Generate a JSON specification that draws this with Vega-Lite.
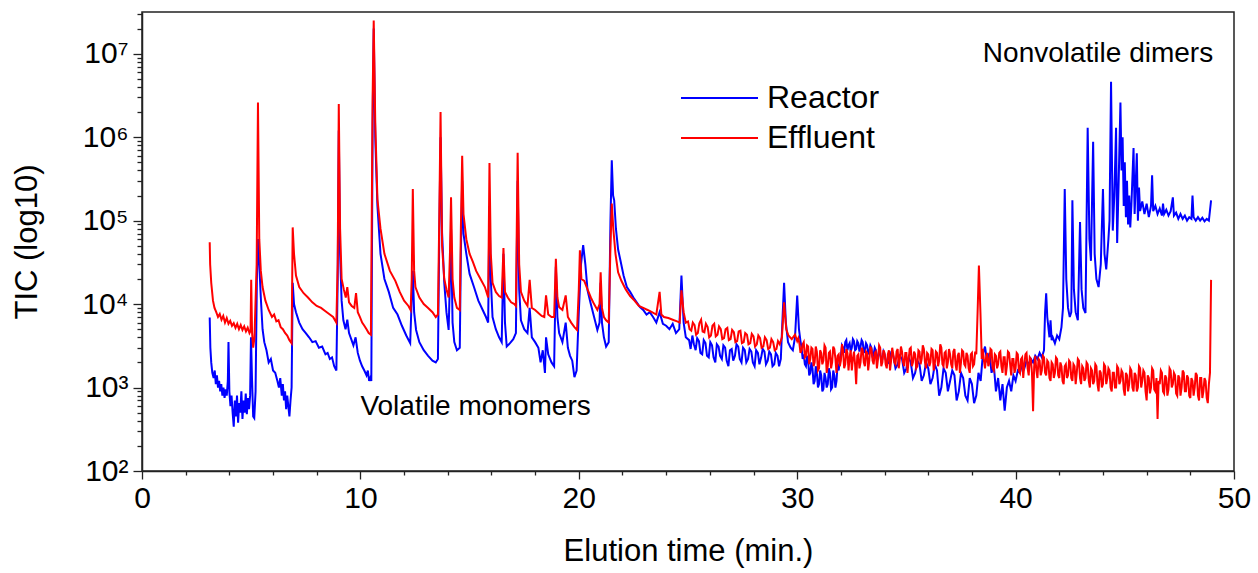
{
  "$schema": "https://vega.github.io/schema/vega-lite/v6.json",
  "width": 1092,
  "height": 459,
  "autosize": {"type": "none"},
  "padding": {"left": 142, "top": 12, "right": 24, "bottom": 102},
  "background": "white",
  "config": {
    "font": "Liberation Sans",
    "view": {"stroke": "#222222", "strokeWidth": 1.5},
    "axis": {
      "domainColor": "#222222", "domainWidth": 1.5, "tickColor": "#222222", "tickWidth": 1.3,
      "labelColor": "black", "titleColor": "black", "labelFont": "Liberation Sans", "titleFont": "Liberation Sans",
      "titleFontWeight": "normal", "grid": false, "labelFontSize": 30, "titleFontSize": 31, "labelOverlap": false
    }
  },
  "datasets": {
    "reactor": [
      {"t":3.1,"tic":6900},{"t":3.13,"tic":3000},{"t":3.17,"tic":2000},{"t":3.22,"tic":1500},{"t":3.28,"tic":1300},{"t":3.33,"tic":1600},{"t":3.38,"tic":1100},{"t":3.43,"tic":1400},{"t":3.48,"tic":1000},{"t":3.53,"tic":1200},{"t":3.58,"tic":900},{"t":3.63,"tic":1100},{"t":3.68,"tic":800},{"t":3.73,"tic":1000},{"t":3.78,"tic":750},{"t":3.83,"tic":950},{"t":3.88,"tic":800},{"t":3.93,"tic":1200},{"t":3.96,"tic":3500},{"t":4.0,"tic":900},{"t":4.05,"tic":600},{"t":4.1,"tic":800},{"t":4.15,"tic":500},{"t":4.2,"tic":340},{"t":4.25,"tic":700},{"t":4.3,"tic":450},{"t":4.35,"tic":800},{"t":4.4,"tic":380},{"t":4.45,"tic":650},{"t":4.5,"tic":500},{"t":4.55,"tic":900},{"t":4.6,"tic":420},{"t":4.65,"tic":700},{"t":4.7,"tic":500},{"t":4.75,"tic":850},{"t":4.8,"tic":480},{"t":4.85,"tic":750},{"t":4.9,"tic":550},{"t":4.95,"tic":800},{"t":4.99,"tic":4000},{"t":5.04,"tic":1200},{"t":5.09,"tic":450},{"t":5.14,"tic":430},{"t":5.2,"tic":900},{"t":5.26,"tic":20000},{"t":5.31,"tic":60000},{"t":5.37,"tic":30000},{"t":5.44,"tic":12000},{"t":5.52,"tic":5000},{"t":5.6,"tic":3500},{"t":5.7,"tic":2800},{"t":5.8,"tic":2000},{"t":5.9,"tic":2200},{"t":6.0,"tic":1600},{"t":6.1,"tic":1500},{"t":6.2,"tic":1200},{"t":6.27,"tic":1000},{"t":6.33,"tic":1300},{"t":6.4,"tic":800},{"t":6.45,"tic":1100},{"t":6.5,"tic":700},{"t":6.55,"tic":900},{"t":6.6,"tic":550},{"t":6.65,"tic":800},{"t":6.7,"tic":600},{"t":6.75,"tic":450},{"t":6.8,"tic":700},{"t":6.85,"tic":1000},{"t":6.9,"tic":18000},{"t":6.96,"tic":10000},{"t":7.05,"tic":8000},{"t":7.2,"tic":6000},{"t":7.35,"tic":5000},{"t":7.5,"tic":4500},{"t":7.65,"tic":4000},{"t":7.8,"tic":3500},{"t":7.95,"tic":3600},{"t":8.1,"tic":3000},{"t":8.25,"tic":3100},{"t":8.4,"tic":2500},{"t":8.5,"tic":2600},{"t":8.6,"tic":2200},{"t":8.7,"tic":2300},{"t":8.8,"tic":1800},{"t":8.9,"tic":1600},{"t":8.96,"tic":20000},{"t":9.01,"tic":1200000},{"t":9.07,"tic":40000},{"t":9.14,"tic":11000},{"t":9.22,"tic":6400},{"t":9.32,"tic":5000},{"t":9.4,"tic":6500},{"t":9.48,"tic":4500},{"t":9.58,"tic":3800},{"t":9.68,"tic":3200},{"t":9.78,"tic":4000},{"t":9.88,"tic":2600},{"t":9.98,"tic":2100},{"t":10.08,"tic":1800},{"t":10.18,"tic":1600},{"t":10.28,"tic":1400},{"t":10.34,"tic":1600},{"t":10.4,"tic":1200},{"t":10.45,"tic":1300},{"t":10.5,"tic":1200},{"t":10.56,"tic":1500000},{"t":10.61,"tic":20000000},{"t":10.68,"tic":1000000},{"t":10.78,"tic":150000},{"t":10.92,"tic":40000},{"t":11.1,"tic":20000},{"t":11.3,"tic":14000},{"t":11.5,"tic":9000},{"t":11.7,"tic":7500},{"t":11.9,"tic":5500},{"t":12.1,"tic":4200},{"t":12.28,"tic":3400},{"t":12.34,"tic":10000},{"t":12.4,"tic":25000},{"t":12.46,"tic":8000},{"t":12.55,"tic":4900},{"t":12.7,"tic":3500},{"t":12.9,"tic":2800},{"t":13.1,"tic":2400},{"t":13.3,"tic":2100},{"t":13.45,"tic":2000},{"t":13.55,"tic":2200},{"t":13.61,"tic":60000},{"t":13.67,"tic":1000000},{"t":13.74,"tic":71000},{"t":13.84,"tic":18000},{"t":13.94,"tic":8000},{"t":14.04,"tic":4900},{"t":14.1,"tic":20000},{"t":14.15,"tic":80000},{"t":14.22,"tic":6000},{"t":14.3,"tic":3500},{"t":14.42,"tic":2800},{"t":14.55,"tic":3000},{"t":14.6,"tic":40000},{"t":14.66,"tic":300000},{"t":14.72,"tic":70000},{"t":14.85,"tic":40000},{"t":15.0,"tic":23000},{"t":15.2,"tic":16000},{"t":15.4,"tic":11000},{"t":15.6,"tic":8500},{"t":15.75,"tic":7000},{"t":15.85,"tic":6000},{"t":15.91,"tic":150000},{"t":15.97,"tic":20000},{"t":16.05,"tic":7000},{"t":16.2,"tic":5000},{"t":16.35,"tic":4000},{"t":16.47,"tic":3500},{"t":16.55,"tic":40000},{"t":16.62,"tic":6000},{"t":16.7,"tic":3100},{"t":16.85,"tic":3400},{"t":17.0,"tic":3800},{"t":17.12,"tic":4500},{"t":17.2,"tic":300000},{"t":17.27,"tic":15000},{"t":17.35,"tic":6400},{"t":17.5,"tic":5000},{"t":17.65,"tic":4500},{"t":17.75,"tic":9000},{"t":17.85,"tic":4000},{"t":18.0,"tic":3500},{"t":18.15,"tic":3000},{"t":18.25,"tic":2000},{"t":18.35,"tic":2800},{"t":18.45,"tic":1500},{"t":18.5,"tic":4000},{"t":18.6,"tic":2500},{"t":18.75,"tic":2000},{"t":18.87,"tic":1800},{"t":18.95,"tic":28000},{"t":19.02,"tic":7000},{"t":19.1,"tic":4500},{"t":19.25,"tic":3500},{"t":19.4,"tic":6000},{"t":19.5,"tic":3000},{"t":19.6,"tic":2400},{"t":19.7,"tic":2100},{"t":19.8,"tic":1330},{"t":19.9,"tic":1600},{"t":20.0,"tic":8000},{"t":20.1,"tic":30000},{"t":20.2,"tic":51000},{"t":20.3,"tic":30000},{"t":20.4,"tic":14600},{"t":20.55,"tic":10000},{"t":20.7,"tic":7000},{"t":20.85,"tic":4900},{"t":20.95,"tic":6000},{"t":21.0,"tic":18000},{"t":21.06,"tic":6000},{"t":21.15,"tic":4000},{"t":21.25,"tic":3100},{"t":21.37,"tic":3500},{"t":21.45,"tic":100000},{"t":21.51,"tic":530000},{"t":21.57,"tic":200000},{"t":21.62,"tic":175000},{"t":21.7,"tic":80000},{"t":21.8,"tic":45000},{"t":21.9,"tic":34000},{"t":22.05,"tic":22000},{"t":22.2,"tic":16000},{"t":22.35,"tic":14000},{"t":22.5,"tic":12000},{"t":22.65,"tic":10500},{"t":22.8,"tic":9200},{"t":22.95,"tic":8500},{"t":23.1,"tic":7500},{"t":23.25,"tic":8000},{"t":23.4,"tic":7000},{"t":23.55,"tic":6000},{"t":23.7,"tic":8000},{"t":23.85,"tic":5800},{"t":24.0,"tic":5500},{"t":24.15,"tic":5000},{"t":24.3,"tic":5800},{"t":24.45,"tic":4500},{"t":24.6,"tic":5000},{"t":24.7,"tic":22000},{"t":24.8,"tic":6000},{"t":24.9,"tic":4000},{"t":25.05,"tic":3700},{"t":25.12,"tic":2900},{"t":25.2,"tic":4200},{"t":25.27,"tic":3300},{"t":25.35,"tic":2800},{"t":25.42,"tic":3900},{"t":25.5,"tic":3600},{"t":25.57,"tic":2600},{"t":25.65,"tic":2500},{"t":25.72,"tic":3700},{"t":25.8,"tic":3400},{"t":25.87,"tic":2400},{"t":25.95,"tic":2300},{"t":26.02,"tic":3500},{"t":26.1,"tic":3200},{"t":26.17,"tic":2300},{"t":26.25,"tic":2000},{"t":26.32,"tic":3300},{"t":26.4,"tic":3100},{"t":26.47,"tic":2400},{"t":26.55,"tic":2200},{"t":26.62,"tic":3200},{"t":26.7,"tic":3000},{"t":26.77,"tic":2100},{"t":26.85,"tic":1800},{"t":26.92,"tic":2800},{"t":27.0,"tic":2900},{"t":27.07,"tic":2100},{"t":27.15,"tic":2400},{"t":27.22,"tic":3300},{"t":27.3,"tic":3100},{"t":27.37,"tic":2200},{"t":27.45,"tic":2000},{"t":27.52,"tic":3000},{"t":27.6,"tic":2800},{"t":27.67,"tic":2000},{"t":27.75,"tic":2200},{"t":27.82,"tic":2900},{"t":27.9,"tic":2700},{"t":27.97,"tic":2000},{"t":28.05,"tic":1800},{"t":28.12,"tic":2800},{"t":28.2,"tic":2600},{"t":28.27,"tic":1900},{"t":28.35,"tic":2300},{"t":28.42,"tic":2900},{"t":28.5,"tic":2700},{"t":28.57,"tic":1900},{"t":28.65,"tic":2100},{"t":28.72,"tic":2700},{"t":28.8,"tic":2500},{"t":28.87,"tic":1800},{"t":28.95,"tic":1900},{"t":29.02,"tic":2600},{"t":29.1,"tic":2400},{"t":29.17,"tic":1800},{"t":29.25,"tic":2200},{"t":29.34,"tic":8000},{"t":29.4,"tic":18000},{"t":29.48,"tic":6000},{"t":29.58,"tic":3500},{"t":29.7,"tic":3000},{"t":29.8,"tic":2800},{"t":29.9,"tic":4000},{"t":30.0,"tic":12700},{"t":30.08,"tic":5000},{"t":30.15,"tic":3600},{"t":30.2,"tic":3000},{"t":30.25,"tic":2200},{"t":30.3,"tic":2500},{"t":30.35,"tic":1900},{"t":30.4,"tic":1800},{"t":30.45,"tic":2400},{"t":30.5,"tic":2100},{"t":30.55,"tic":1400},{"t":30.6,"tic":1500},{"t":30.65,"tic":2000},{"t":30.7,"tic":1700},{"t":30.75,"tic":1100},{"t":30.8,"tic":1200},{"t":30.85,"tic":1800},{"t":30.9,"tic":1500},{"t":30.95,"tic":1000},{"t":31.0,"tic":1100},{"t":31.05,"tic":1600},{"t":31.1,"tic":1400},{"t":31.15,"tic":900},{"t":31.2,"tic":960},{"t":31.25,"tic":1500},{"t":31.3,"tic":1300},{"t":31.35,"tic":1000},{"t":31.4,"tic":1100},{"t":31.45,"tic":1700},{"t":31.5,"tic":1500},{"t":31.55,"tic":950},{"t":31.6,"tic":1000},{"t":31.65,"tic":1600},{"t":31.7,"tic":1400},{"t":31.75,"tic":1000},{"t":31.8,"tic":1200},{"t":31.85,"tic":1900},{"t":31.9,"tic":1600},{"t":31.95,"tic":2200},{"t":32.0,"tic":2400},{"t":32.05,"tic":3200},{"t":32.1,"tic":3000},{"t":32.15,"tic":2600},{"t":32.2,"tic":3500},{"t":32.25,"tic":3700},{"t":32.3,"tic":2800},{"t":32.35,"tic":3200},{"t":32.4,"tic":3400},{"t":32.45,"tic":2700},{"t":32.5,"tic":3000},{"t":32.55,"tic":3800},{"t":32.6,"tic":3600},{"t":32.65,"tic":2800},{"t":32.7,"tic":2900},{"t":32.75,"tic":3600},{"t":32.8,"tic":3400},{"t":32.85,"tic":2700},{"t":32.9,"tic":3100},{"t":32.95,"tic":3700},{"t":33.0,"tic":3500},{"t":33.05,"tic":2600},{"t":33.1,"tic":2800},{"t":33.15,"tic":3400},{"t":33.2,"tic":3200},{"t":33.25,"tic":2500},{"t":33.3,"tic":2700},{"t":33.35,"tic":3200},{"t":33.4,"tic":3000},{"t":33.45,"tic":2300},{"t":33.5,"tic":2500},{"t":33.55,"tic":3000},{"t":33.6,"tic":2800},{"t":33.65,"tic":2100},{"t":33.7,"tic":2300},{"t":33.75,"tic":2800},{"t":33.8,"tic":2600},{"t":33.85,"tic":2000},{"t":33.9,"tic":2200},{"t":33.95,"tic":2700},{"t":34.0,"tic":2500},{"t":34.1,"tic":1900},{"t":34.2,"tic":2000},{"t":34.3,"tic":2600},{"t":34.4,"tic":2400},{"t":34.5,"tic":1700},{"t":34.6,"tic":1900},{"t":34.7,"tic":2400},{"t":34.8,"tic":2200},{"t":34.9,"tic":1500},{"t":35.0,"tic":1700},{"t":35.1,"tic":2300},{"t":35.2,"tic":2000},{"t":35.3,"tic":1300},{"t":35.4,"tic":1500},{"t":35.5,"tic":2100},{"t":35.6,"tic":1900},{"t":35.7,"tic":1200},{"t":35.8,"tic":1400},{"t":35.9,"tic":2000},{"t":36.0,"tic":1700},{"t":36.1,"tic":1100},{"t":36.2,"tic":1300},{"t":36.3,"tic":1900},{"t":36.4,"tic":1600},{"t":36.5,"tic":800},{"t":36.6,"tic":1000},{"t":36.7,"tic":1700},{"t":36.8,"tic":1500},{"t":36.9,"tic":900},{"t":37.0,"tic":1200},{"t":37.1,"tic":1600},{"t":37.2,"tic":1400},{"t":37.3,"tic":700},{"t":37.4,"tic":900},{"t":37.5,"tic":1500},{"t":37.6,"tic":1300},{"t":37.7,"tic":800},{"t":37.8,"tic":700},{"t":37.9,"tic":1300},{"t":38.0,"tic":1100},{"t":38.1,"tic":650},{"t":38.2,"tic":800},{"t":38.3,"tic":1500},{"t":38.4,"tic":1200},{"t":38.5,"tic":2500},{"t":38.6,"tic":3100},{"t":38.7,"tic":2000},{"t":38.8,"tic":2600},{"t":38.9,"tic":1500},{"t":39.0,"tic":1900},{"t":39.1,"tic":900},{"t":39.2,"tic":1300},{"t":39.3,"tic":700},{"t":39.4,"tic":1100},{"t":39.5,"tic":530},{"t":39.6,"tic":1000},{"t":39.7,"tic":1200},{"t":39.8,"tic":900},{"t":39.9,"tic":1400},{"t":40.0,"tic":1200},{"t":40.1,"tic":1600},{"t":40.2,"tic":1500},{"t":40.3,"tic":1900},{"t":40.4,"tic":1700},{"t":40.5,"tic":2100},{"t":40.6,"tic":1900},{"t":40.7,"tic":2200},{"t":40.8,"tic":2000},{"t":40.9,"tic":2400},{"t":41.0,"tic":2200},{"t":41.1,"tic":2600},{"t":41.2,"tic":2300},{"t":41.3,"tic":2800},{"t":41.35,"tic":8000},{"t":41.4,"tic":13500},{"t":41.45,"tic":7000},{"t":41.5,"tic":5300},{"t":41.55,"tic":4000},{"t":41.6,"tic":6400},{"t":41.65,"tic":3700},{"t":41.7,"tic":4000},{"t":41.8,"tic":3400},{"t":41.9,"tic":4200},{"t":42.0,"tic":3800},{"t":42.1,"tic":5300},{"t":42.17,"tic":9000},{"t":42.25,"tic":240000},{"t":42.32,"tic":20000},{"t":42.4,"tic":9000},{"t":42.48,"tic":7000},{"t":42.55,"tic":8000},{"t":42.6,"tic":175000},{"t":42.67,"tic":15000},{"t":42.75,"tic":8000},{"t":42.85,"tic":6400},{"t":42.95,"tic":96000},{"t":43.02,"tic":15000},{"t":43.1,"tic":9000},{"t":43.2,"tic":7800},{"t":43.3,"tic":1300000},{"t":43.38,"tic":60000},{"t":43.45,"tic":33000},{"t":43.55,"tic":880000},{"t":43.62,"tic":40000},{"t":43.7,"tic":20000},{"t":43.8,"tic":16000},{"t":43.9,"tic":30000},{"t":44.0,"tic":240000},{"t":44.07,"tic":40000},{"t":44.15,"tic":26000},{"t":44.25,"tic":60000},{"t":44.3,"tic":100000},{"t":44.37,"tic":4600000},{"t":44.45,"tic":76000},{"t":44.52,"tic":200000},{"t":44.6,"tic":1300000},{"t":44.65,"tic":54000},{"t":44.72,"tic":300000},{"t":44.8,"tic":2600000},{"t":44.85,"tic":400000},{"t":44.9,"tic":1000000},{"t":44.95,"tic":150000},{"t":45.0,"tic":500000},{"t":45.05,"tic":110000},{"t":45.1,"tic":300000},{"t":45.15,"tic":90000},{"t":45.2,"tic":200000},{"t":45.25,"tic":83000},{"t":45.3,"tic":150000},{"t":45.4,"tic":740000},{"t":45.45,"tic":120000},{"t":45.55,"tic":640000},{"t":45.6,"tic":100000},{"t":45.65,"tic":250000},{"t":45.7,"tic":130000},{"t":45.8,"tic":170000},{"t":45.9,"tic":120000},{"t":46.0,"tic":160000},{"t":46.1,"tic":110000},{"t":46.2,"tic":150000},{"t":46.25,"tic":350000},{"t":46.3,"tic":130000},{"t":46.4,"tic":150000},{"t":46.5,"tic":120000},{"t":46.6,"tic":140000},{"t":46.7,"tic":115000},{"t":46.75,"tic":160000},{"t":46.8,"tic":120000},{"t":46.9,"tic":135000},{"t":47.0,"tic":115000},{"t":47.1,"tic":130000},{"t":47.2,"tic":190000},{"t":47.25,"tic":115000},{"t":47.35,"tic":125000},{"t":47.45,"tic":105000},{"t":47.55,"tic":120000},{"t":47.65,"tic":105000},{"t":47.75,"tic":115000},{"t":47.85,"tic":100000},{"t":47.95,"tic":110000},{"t":48.05,"tic":105000},{"t":48.1,"tic":200000},{"t":48.15,"tic":110000},{"t":48.25,"tic":100000},{"t":48.35,"tic":110000},{"t":48.45,"tic":100000},{"t":48.55,"tic":108000},{"t":48.65,"tic":98000},{"t":48.75,"tic":105000},{"t":48.85,"tic":100000},{"t":48.95,"tic":175000}
    ],
    "effluent": [
      {"t":3.1,"tic":55000},{"t":3.12,"tic":30000},{"t":3.17,"tic":18000},{"t":3.25,"tic":11000},{"t":3.32,"tic":9000},{"t":3.4,"tic":8000},{"t":3.48,"tic":7000},{"t":3.56,"tic":7600},{"t":3.64,"tic":6500},{"t":3.72,"tic":7200},{"t":3.8,"tic":6000},{"t":3.88,"tic":6800},{"t":3.96,"tic":5800},{"t":4.04,"tic":6300},{"t":4.12,"tic":5500},{"t":4.2,"tic":5900},{"t":4.28,"tic":5200},{"t":4.36,"tic":5800},{"t":4.44,"tic":5000},{"t":4.52,"tic":5600},{"t":4.6,"tic":4900},{"t":4.68,"tic":5400},{"t":4.76,"tic":4700},{"t":4.84,"tic":5200},{"t":4.92,"tic":4500},{"t":4.97,"tic":4800},{"t":5.0,"tic":19500},{"t":5.04,"tic":4500},{"t":5.09,"tic":3000},{"t":5.15,"tic":4000},{"t":5.25,"tic":30000},{"t":5.31,"tic":2600000},{"t":5.37,"tic":60000},{"t":5.44,"tic":25000},{"t":5.52,"tic":16000},{"t":5.65,"tic":11000},{"t":5.8,"tic":8500},{"t":5.95,"tic":7000},{"t":6.05,"tic":7500},{"t":6.15,"tic":6200},{"t":6.25,"tic":6400},{"t":6.35,"tic":5300},{"t":6.45,"tic":5000},{"t":6.55,"tic":4500},{"t":6.65,"tic":4200},{"t":6.75,"tic":3700},{"t":6.85,"tic":3400},{"t":6.9,"tic":83000},{"t":6.96,"tic":40000},{"t":7.05,"tic":22000},{"t":7.2,"tic":16000},{"t":7.4,"tic":13500},{"t":7.6,"tic":12000},{"t":7.8,"tic":10500},{"t":8.0,"tic":9500},{"t":8.2,"tic":9000},{"t":8.4,"tic":8200},{"t":8.6,"tic":7500},{"t":8.75,"tic":7000},{"t":8.9,"tic":6000},{"t":8.96,"tic":30000},{"t":9.01,"tic":2500000},{"t":9.07,"tic":80000},{"t":9.14,"tic":20000},{"t":9.24,"tic":15000},{"t":9.33,"tic":12000},{"t":9.4,"tic":16000},{"t":9.48,"tic":10500},{"t":9.6,"tic":9500},{"t":9.72,"tic":9000},{"t":9.8,"tic":13500},{"t":9.88,"tic":8000},{"t":9.98,"tic":7000},{"t":10.08,"tic":6000},{"t":10.18,"tic":5500},{"t":10.28,"tic":5000},{"t":10.38,"tic":4500},{"t":10.48,"tic":4300},{"t":10.56,"tic":3000000},{"t":10.61,"tic":25000000},{"t":10.68,"tic":1500000},{"t":10.78,"tic":180000},{"t":10.92,"tic":80000},{"t":11.1,"tic":40000},{"t":11.35,"tic":25000},{"t":11.6,"tic":19000},{"t":11.8,"tic":14000},{"t":12.0,"tic":11000},{"t":12.2,"tic":9500},{"t":12.3,"tic":8500},{"t":12.35,"tic":20000},{"t":12.4,"tic":240000},{"t":12.46,"tic":25000},{"t":12.52,"tic":16000},{"t":12.7,"tic":12000},{"t":12.9,"tic":10000},{"t":13.1,"tic":9000},{"t":13.3,"tic":8000},{"t":13.45,"tic":7000},{"t":13.55,"tic":7500},{"t":13.61,"tic":100000},{"t":13.67,"tic":2000000},{"t":13.74,"tic":50000},{"t":13.84,"tic":20000},{"t":13.94,"tic":15000},{"t":14.04,"tic":12000},{"t":14.1,"tic":40000},{"t":14.15,"tic":190000},{"t":14.22,"tic":20000},{"t":14.3,"tic":12000},{"t":14.42,"tic":9000},{"t":14.55,"tic":8500},{"t":14.6,"tic":80000},{"t":14.66,"tic":600000},{"t":14.72,"tic":120000},{"t":14.85,"tic":60000},{"t":15.0,"tic":40000},{"t":15.15,"tic":32000},{"t":15.3,"tic":25000},{"t":15.5,"tic":20000},{"t":15.7,"tic":16000},{"t":15.85,"tic":12000},{"t":15.91,"tic":490000},{"t":15.97,"tic":40000},{"t":16.05,"tic":18000},{"t":16.2,"tic":14000},{"t":16.35,"tic":12500},{"t":16.47,"tic":12000},{"t":16.55,"tic":47000},{"t":16.62,"tic":14000},{"t":16.75,"tic":12000},{"t":16.9,"tic":10500},{"t":17.05,"tic":10000},{"t":17.12,"tic":9500},{"t":17.2,"tic":650000},{"t":17.27,"tic":30000},{"t":17.35,"tic":14000},{"t":17.5,"tic":11000},{"t":17.65,"tic":9500},{"t":17.75,"tic":19500},{"t":17.85,"tic":9000},{"t":18.0,"tic":8500},{"t":18.15,"tic":7800},{"t":18.3,"tic":7200},{"t":18.42,"tic":7000},{"t":18.5,"tic":12700},{"t":18.6,"tic":7500},{"t":18.75,"tic":7000},{"t":18.87,"tic":7000},{"t":18.95,"tic":35000},{"t":19.02,"tic":12000},{"t":19.1,"tic":9200},{"t":19.25,"tic":8500},{"t":19.4,"tic":12700},{"t":19.5,"tic":7000},{"t":19.65,"tic":6000},{"t":19.8,"tic":5300},{"t":19.92,"tic":4900},{"t":20.0,"tic":15000},{"t":20.05,"tic":44000},{"t":20.12,"tic":20000},{"t":20.25,"tic":19000},{"t":20.4,"tic":15000},{"t":20.55,"tic":12000},{"t":20.7,"tic":10000},{"t":20.85,"tic":8500},{"t":20.95,"tic":10000},{"t":21.0,"tic":24000},{"t":21.06,"tic":9000},{"t":21.15,"tic":7000},{"t":21.25,"tic":6400},{"t":21.37,"tic":6000},{"t":21.45,"tic":50000},{"t":21.51,"tic":160000},{"t":21.58,"tic":80000},{"t":21.68,"tic":40000},{"t":21.8,"tic":24000},{"t":21.95,"tic":19000},{"t":22.15,"tic":15000},{"t":22.35,"tic":12500},{"t":22.55,"tic":11000},{"t":22.75,"tic":9500},{"t":22.95,"tic":9000},{"t":23.15,"tic":8500},{"t":23.35,"tic":8000},{"t":23.55,"tic":7500},{"t":23.7,"tic":14000},{"t":23.78,"tic":7500},{"t":23.9,"tic":7000},{"t":24.1,"tic":6800},{"t":24.3,"tic":6500},{"t":24.5,"tic":6200},{"t":24.62,"tic":6000},{"t":24.7,"tic":14600},{"t":24.8,"tic":8000},{"t":24.9,"tic":6000},{"t":25.0,"tic":6200},{"t":25.07,"tic":5000},{"t":25.15,"tic":4800},{"t":25.22,"tic":6000},{"t":25.3,"tic":5600},{"t":25.37,"tic":4300},{"t":25.45,"tic":4500},{"t":25.52,"tic":5900},{"t":25.6,"tic":6500},{"t":25.67,"tic":4700},{"t":25.75,"tic":4600},{"t":25.82,"tic":5800},{"t":25.9,"tic":5300},{"t":25.97,"tic":4000},{"t":26.05,"tic":4200},{"t":26.12,"tic":5500},{"t":26.2,"tic":5800},{"t":26.27,"tic":4100},{"t":26.35,"tic":4300},{"t":26.42,"tic":5400},{"t":26.5,"tic":5000},{"t":26.57,"tic":3800},{"t":26.65,"tic":3900},{"t":26.72,"tic":5000},{"t":26.8,"tic":5200},{"t":26.87,"tic":3700},{"t":26.95,"tic":3800},{"t":27.02,"tic":4900},{"t":27.1,"tic":4600},{"t":27.17,"tic":3500},{"t":27.25,"tic":3600},{"t":27.32,"tic":4700},{"t":27.4,"tic":4800},{"t":27.47,"tic":3400},{"t":27.55,"tic":3500},{"t":27.62,"tic":4500},{"t":27.7,"tic":4300},{"t":27.77,"tic":3300},{"t":27.85,"tic":3400},{"t":27.92,"tic":4400},{"t":28.0,"tic":4100},{"t":28.07,"tic":3100},{"t":28.15,"tic":3300},{"t":28.22,"tic":4200},{"t":28.3,"tic":3900},{"t":28.37,"tic":3000},{"t":28.45,"tic":3100},{"t":28.52,"tic":4000},{"t":28.6,"tic":3700},{"t":28.67,"tic":2900},{"t":28.75,"tic":3000},{"t":28.82,"tic":3800},{"t":28.9,"tic":3500},{"t":28.97,"tic":2800},{"t":29.05,"tic":2900},{"t":29.12,"tic":3600},{"t":29.2,"tic":3300},{"t":29.3,"tic":4000},{"t":29.4,"tic":10500},{"t":29.5,"tic":5000},{"t":29.6,"tic":4200},{"t":29.75,"tic":3800},{"t":29.9,"tic":4300},{"t":30.0,"tic":3600},{"t":30.05,"tic":3900},{"t":30.1,"tic":3400},{"t":30.15,"tic":2600},{"t":30.2,"tic":2800},{"t":30.25,"tic":3300},{"t":30.3,"tic":3500},{"t":30.35,"tic":2300},{"t":30.4,"tic":2400},{"t":30.45,"tic":3200},{"t":30.5,"tic":3100},{"t":30.55,"tic":1900},{"t":30.6,"tic":2200},{"t":30.65,"tic":3000},{"t":30.7,"tic":2900},{"t":30.75,"tic":1800},{"t":30.8,"tic":2000},{"t":30.85,"tic":3100},{"t":30.9,"tic":2700},{"t":30.95,"tic":1600},{"t":31.0,"tic":1700},{"t":31.05,"tic":2800},{"t":31.1,"tic":2600},{"t":31.15,"tic":1900},{"t":31.2,"tic":2100},{"t":31.25,"tic":3200},{"t":31.3,"tic":3000},{"t":31.35,"tic":1500},{"t":31.4,"tic":1800},{"t":31.45,"tic":2600},{"t":31.5,"tic":2700},{"t":31.55,"tic":1700},{"t":31.6,"tic":2000},{"t":31.65,"tic":3100},{"t":31.7,"tic":2900},{"t":31.75,"tic":2200},{"t":31.8,"tic":1500},{"t":31.85,"tic":2400},{"t":31.9,"tic":2500},{"t":31.95,"tic":1800},{"t":32.0,"tic":2100},{"t":32.05,"tic":3300},{"t":32.1,"tic":2800},{"t":32.15,"tic":1700},{"t":32.2,"tic":1900},{"t":32.25,"tic":2900},{"t":32.3,"tic":2600},{"t":32.35,"tic":1600},{"t":32.4,"tic":2300},{"t":32.45,"tic":2800},{"t":32.5,"tic":1600},{"t":32.55,"tic":2200},{"t":32.6,"tic":2700},{"t":32.65,"tic":1900},{"t":32.7,"tic":1100},{"t":32.75,"tic":2400},{"t":32.8,"tic":2500},{"t":32.85,"tic":1700},{"t":32.9,"tic":2000},{"t":32.95,"tic":3000},{"t":33.0,"tic":2800},{"t":33.05,"tic":2000},{"t":33.1,"tic":1800},{"t":33.15,"tic":2700},{"t":33.2,"tic":2600},{"t":33.25,"tic":1600},{"t":33.3,"tic":2100},{"t":33.35,"tic":3100},{"t":33.4,"tic":2900},{"t":33.45,"tic":2100},{"t":33.5,"tic":1900},{"t":33.55,"tic":2600},{"t":33.6,"tic":2700},{"t":33.65,"tic":1700},{"t":33.7,"tic":2200},{"t":33.75,"tic":3200},{"t":33.8,"tic":3000},{"t":33.85,"tic":1800},{"t":33.9,"tic":2000},{"t":33.95,"tic":2800},{"t":34.0,"tic":2600},{"t":34.05,"tic":1900},{"t":34.1,"tic":1700},{"t":34.15,"tic":2500},{"t":34.2,"tic":2800},{"t":34.25,"tic":1600},{"t":34.3,"tic":2100},{"t":34.35,"tic":3000},{"t":34.4,"tic":2500},{"t":34.45,"tic":2000},{"t":34.5,"tic":1900},{"t":34.55,"tic":2700},{"t":34.6,"tic":2900},{"t":34.65,"tic":1700},{"t":34.7,"tic":2200},{"t":34.75,"tic":3100},{"t":34.8,"tic":2700},{"t":34.85,"tic":2000},{"t":34.9,"tic":1800},{"t":34.95,"tic":2600},{"t":35.0,"tic":2600},{"t":35.05,"tic":1500},{"t":35.1,"tic":2100},{"t":35.15,"tic":2900},{"t":35.2,"tic":3000},{"t":35.25,"tic":1800},{"t":35.3,"tic":2000},{"t":35.35,"tic":2700},{"t":35.4,"tic":2500},{"t":35.45,"tic":1700},{"t":35.5,"tic":1800},{"t":35.55,"tic":2800},{"t":35.6,"tic":2700},{"t":35.65,"tic":1900},{"t":35.7,"tic":2200},{"t":35.75,"tic":3200},{"t":35.8,"tic":2900},{"t":35.85,"tic":2000},{"t":35.9,"tic":1700},{"t":35.95,"tic":2600},{"t":36.0,"tic":2500},{"t":36.05,"tic":1800},{"t":36.1,"tic":2000},{"t":36.15,"tic":2900},{"t":36.2,"tic":2800},{"t":36.25,"tic":1600},{"t":36.3,"tic":1900},{"t":36.35,"tic":2700},{"t":36.4,"tic":2600},{"t":36.45,"tic":1800},{"t":36.5,"tic":2100},{"t":36.55,"tic":3300},{"t":36.6,"tic":3000},{"t":36.65,"tic":1900},{"t":36.7,"tic":1800},{"t":36.75,"tic":2600},{"t":36.8,"tic":2700},{"t":36.85,"tic":1700},{"t":36.9,"tic":2000},{"t":36.95,"tic":2900},{"t":37.0,"tic":2500},{"t":37.05,"tic":1900},{"t":37.1,"tic":1700},{"t":37.15,"tic":2700},{"t":37.2,"tic":2900},{"t":37.25,"tic":1900},{"t":37.3,"tic":1600},{"t":37.35,"tic":2400},{"t":37.4,"tic":2600},{"t":37.45,"tic":1500},{"t":37.5,"tic":2000},{"t":37.55,"tic":2800},{"t":37.6,"tic":2700},{"t":37.65,"tic":1900},{"t":37.7,"tic":1800},{"t":37.75,"tic":2600},{"t":37.8,"tic":2400},{"t":37.85,"tic":1700},{"t":37.9,"tic":1500},{"t":37.95,"tic":2500},{"t":38.0,"tic":2600},{"t":38.05,"tic":1800},{"t":38.1,"tic":1900},{"t":38.15,"tic":2700},{"t":38.2,"tic":2500},{"t":38.26,"tic":8000},{"t":38.32,"tic":29000},{"t":38.39,"tic":8000},{"t":38.45,"tic":2200},{"t":38.5,"tic":2900},{"t":38.55,"tic":2100},{"t":38.6,"tic":1700},{"t":38.65,"tic":2300},{"t":38.7,"tic":2600},{"t":38.75,"tic":1800},{"t":38.8,"tic":2000},{"t":38.85,"tic":2900},{"t":38.9,"tic":2800},{"t":38.95,"tic":1700},{"t":39.0,"tic":1600},{"t":39.05,"tic":2500},{"t":39.1,"tic":2400},{"t":39.15,"tic":1700},{"t":39.2,"tic":1900},{"t":39.25,"tic":2600},{"t":39.3,"tic":2700},{"t":39.35,"tic":1800},{"t":39.4,"tic":1500},{"t":39.45,"tic":2300},{"t":39.5,"tic":2300},{"t":39.55,"tic":1400},{"t":39.6,"tic":1800},{"t":39.65,"tic":2700},{"t":39.7,"tic":2600},{"t":39.75,"tic":1900},{"t":39.8,"tic":1400},{"t":39.85,"tic":2200},{"t":39.9,"tic":2200},{"t":39.95,"tic":1500},{"t":40.0,"tic":1700},{"t":40.05,"tic":2600},{"t":40.1,"tic":2500},{"t":40.15,"tic":1600},{"t":40.2,"tic":1500},{"t":40.25,"tic":2200},{"t":40.3,"tic":2300},{"t":40.35,"tic":1300},{"t":40.4,"tic":1900},{"t":40.45,"tic":2500},{"t":40.5,"tic":2600},{"t":40.55,"tic":1700},{"t":40.6,"tic":1400},{"t":40.65,"tic":2300},{"t":40.7,"tic":2200},{"t":40.75,"tic":1500},{"t":40.8,"tic":520},{"t":40.85,"tic":1800},{"t":40.9,"tic":2400},{"t":40.95,"tic":1600},{"t":41.0,"tic":1300},{"t":41.05,"tic":2200},{"t":41.1,"tic":2100},{"t":41.15,"tic":1400},{"t":41.2,"tic":1600},{"t":41.25,"tic":2400},{"t":41.3,"tic":2300},{"t":41.35,"tic":1500},{"t":41.4,"tic":1400},{"t":41.45,"tic":2100},{"t":41.5,"tic":2000},{"t":41.55,"tic":1300},{"t":41.6,"tic":1200},{"t":41.65,"tic":2000},{"t":41.7,"tic":1900},{"t":41.75,"tic":1300},{"t":41.8,"tic":1500},{"t":41.85,"tic":2300},{"t":41.9,"tic":2200},{"t":41.95,"tic":1400},{"t":42.0,"tic":1300},{"t":42.05,"tic":2000},{"t":42.1,"tic":1800},{"t":42.15,"tic":1200},{"t":42.2,"tic":1100},{"t":42.25,"tic":1800},{"t":42.3,"tic":1900},{"t":42.35,"tic":1300},{"t":42.4,"tic":1400},{"t":42.45,"tic":2100},{"t":42.5,"tic":2000},{"t":42.55,"tic":1300},{"t":42.6,"tic":1200},{"t":42.65,"tic":1900},{"t":42.7,"tic":1800},{"t":42.75,"tic":1100},{"t":42.8,"tic":1500},{"t":42.85,"tic":2200},{"t":42.9,"tic":2100},{"t":42.95,"tic":1300},{"t":43.0,"tic":1100},{"t":43.05,"tic":1800},{"t":43.1,"tic":1700},{"t":43.15,"tic":1200},{"t":43.2,"tic":1300},{"t":43.25,"tic":2000},{"t":43.3,"tic":1900},{"t":43.35,"tic":1200},{"t":43.4,"tic":1000},{"t":43.45,"tic":1700},{"t":43.5,"tic":1600},{"t":43.55,"tic":1100},{"t":43.6,"tic":1200},{"t":43.65,"tic":1900},{"t":43.7,"tic":1800},{"t":43.75,"tic":1100},{"t":43.8,"tic":900},{"t":43.85,"tic":1600},{"t":43.9,"tic":1500},{"t":43.95,"tic":1000},{"t":44.0,"tic":1100},{"t":44.05,"tic":1900},{"t":44.1,"tic":1800},{"t":44.15,"tic":1100},{"t":44.2,"tic":1300},{"t":44.25,"tic":1700},{"t":44.3,"tic":1600},{"t":44.35,"tic":1000},{"t":44.4,"tic":900},{"t":44.45,"tic":1500},{"t":44.5,"tic":1500},{"t":44.55,"tic":1000},{"t":44.6,"tic":1000},{"t":44.65,"tic":1800},{"t":44.7,"tic":1700},{"t":44.75,"tic":1100},{"t":44.8,"tic":1200},{"t":44.85,"tic":1600},{"t":44.9,"tic":1500},{"t":44.95,"tic":950},{"t":45.0,"tic":800},{"t":45.05,"tic":1500},{"t":45.1,"tic":1400},{"t":45.15,"tic":900},{"t":45.2,"tic":1100},{"t":45.25,"tic":1700},{"t":45.3,"tic":1600},{"t":45.35,"tic":1000},{"t":45.4,"tic":900},{"t":45.45,"tic":1500},{"t":45.5,"tic":1400},{"t":45.55,"tic":900},{"t":45.6,"tic":1000},{"t":45.65,"tic":1800},{"t":45.7,"tic":1700},{"t":45.75,"tic":1000},{"t":45.8,"tic":1200},{"t":45.85,"tic":1600},{"t":45.9,"tic":1500},{"t":45.95,"tic":900},{"t":46.0,"tic":700},{"t":46.05,"tic":1400},{"t":46.1,"tic":1300},{"t":46.15,"tic":850},{"t":46.2,"tic":1000},{"t":46.25,"tic":1700},{"t":46.3,"tic":1600},{"t":46.35,"tic":950},{"t":46.4,"tic":900},{"t":46.45,"tic":1300},{"t":46.5,"tic":420},{"t":46.55,"tic":1200},{"t":46.6,"tic":1100},{"t":46.65,"tic":1600},{"t":46.7,"tic":1500},{"t":46.75,"tic":900},{"t":46.8,"tic":850},{"t":46.85,"tic":1400},{"t":46.9,"tic":1300},{"t":46.95,"tic":800},{"t":47.0,"tic":950},{"t":47.05,"tic":1700},{"t":47.1,"tic":1600},{"t":47.15,"tic":1000},{"t":47.2,"tic":1100},{"t":47.25,"tic":1500},{"t":47.3,"tic":1400},{"t":47.35,"tic":850},{"t":47.4,"tic":800},{"t":47.45,"tic":1400},{"t":47.5,"tic":1300},{"t":47.55,"tic":800},{"t":47.6,"tic":1000},{"t":47.65,"tic":1600},{"t":47.7,"tic":1500},{"t":47.75,"tic":900},{"t":47.8,"tic":900},{"t":47.85,"tic":1400},{"t":47.9,"tic":1300},{"t":47.95,"tic":800},{"t":48.0,"tic":750},{"t":48.05,"tic":1300},{"t":48.1,"tic":1200},{"t":48.15,"tic":800},{"t":48.2,"tic":1000},{"t":48.25,"tic":1500},{"t":48.3,"tic":1400},{"t":48.35,"tic":800},{"t":48.4,"tic":700},{"t":48.45,"tic":1300},{"t":48.5,"tic":1300},{"t":48.55,"tic":750},{"t":48.6,"tic":900},{"t":48.65,"tic":1300},{"t":48.7,"tic":1200},{"t":48.75,"tic":750},{"t":48.8,"tic":650},{"t":48.85,"tic":1100},{"t":48.9,"tic":1500},{"t":48.95,"tic":19500}
    ],
    "notes": [
      {"t":10.0,"tic":585,"label":"Volatile monomers"},
      {"t":38.5,"tic":9800000,"label":"Nonvolatile dimers"}
    ]
  },
  "encoding": {
    "x": {
      "field": "t", "type": "quantitative",
      "scale": {"domain": [0, 50], "nice": false, "zero": false},
      "axis": {
        "title": "Elution time (min.)",
        "values": [0,2,4,6,8,10,12,14,16,18,20,22,24,26,28,30,32,34,36,38,40,42,44,46,48,50],
        "labelExpr": "datum.value % 10 === 0 ? '' + datum.value : ''",
        "tickSize": {"condition": {"test": "datum.value % 10 === 0", "value": 8}, "value": 4},
        "labelPadding": 4, "titlePadding": 23, "labelFlush": false
      }
    },
    "y": {
      "field": "tic", "type": "quantitative",
      "scale": {"type": "log", "domain": [100, 31622777], "nice": false},
      "axis": {
        "title": "TIC (log10)",
        "values": [100,200,300,400,500,600,700,800,900,1000,2000,3000,4000,5000,6000,7000,8000,9000,10000,20000,30000,40000,50000,60000,70000,80000,90000,100000,200000,300000,400000,500000,600000,700000,800000,900000,1000000,2000000,3000000,4000000,5000000,6000000,7000000,8000000,9000000,10000000,20000000,30000000],
        "labelExpr": "datum.value == 100 ? '10²' : datum.value == 1000 ? '10³' : datum.value == 10000 ? '10⁴' : datum.value == 100000 ? '10⁵' : datum.value == 1000000 ? '10⁶' : datum.value == 10000000 ? '10⁷' : ''",
        "tickSize": {"condition": {"test": "indexof([100,1000,10000,100000,1000000,10000000], datum.value) >= 0", "value": 9}, "value": 5},
        "labelPadding": 5, "titlePadding": 38
      }
    }
  },
  "layer": [
    {
      "data": {"name": "reactor"},
      "mark": {"type": "line", "strokeWidth": 2, "clip": true},
      "encoding": {
        "color": {
          "datum": "Reactor", "type": "nominal",
          "scale": {"domain": ["Reactor", "Effluent"], "range": ["#0000ff", "#ff0000"]},
          "legend": {
            "title": null, "orient": "none", "legendX": 538, "legendY": 71,
            "symbolType": "stroke", "symbolSize": 5929, "symbolStrokeWidth": 2,
            "labelFontSize": 32, "labelFont": "Liberation Sans", "labelColor": "black",
            "clipHeight": 30, "rowPadding": 8, "labelOffset": 8, "padding": 0
          }
        }
      }
    },
    {
      "data": {"name": "effluent"},
      "mark": {"type": "line", "strokeWidth": 2, "clip": true},
      "encoding": {"color": {"datum": "Effluent", "type": "nominal"}}
    },
    {
      "data": {"name": "notes"},
      "mark": {"type": "text", "align": "left", "baseline": "middle", "fontSize": 28, "font": "Liberation Sans", "color": "black"},
      "encoding": {"text": {"field": "label"}}
    }
  ]
}
